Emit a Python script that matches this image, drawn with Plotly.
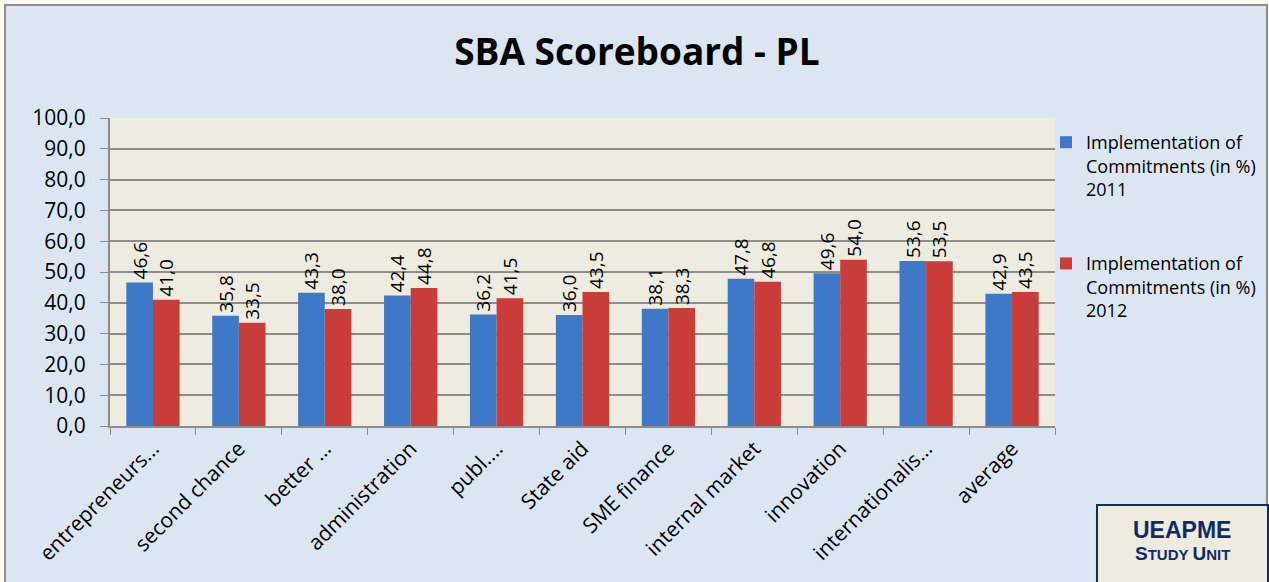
import plotly.graph_objects as go

categories = ["entrepreneurs…", "second chance", "better …", "administration", "publ.…",
              "State aid", "SME finance", "internal market", "innovation",
              "internationalis…", "average"]
values_2011 = [46.6, 35.8, 43.3, 42.4, 36.2, 36.0, 38.1, 47.8, 49.6, 53.6, 42.9]
values_2012 = [41.0, 33.5, 38.0, 44.8, 41.5, 43.5, 38.3, 46.8, 54.0, 53.5, 43.5]
series_names = ["Implementation of<br>Commitments (in %)<br>2011",
                "Implementation of<br>Commitments (in %)<br>2012"]
y_ticks = [0, 10, 20, 30, 40, 50, 60, 70, 80, 90, 100]

W, H = 1269, 582
ML, MR, MT, MB = 110, 214, 118, 156
PW, PH = W - ML - MR, H - MT - MB

def px(x):
    return (x - ML) / PW

def py(y):
    return (H - MB - y) / PH

FONT = "Open Sans"

fig = go.Figure()
fig.add_trace(go.Bar(
    x=categories, y=values_2011, name=series_names[0], legendgroup="a",
    marker=dict(color="#3e78c6", line=dict(width=0)),
    text=[f"{v:.1f}".replace(".", ",") for v in values_2011],
    textposition="outside", textangle=-90, cliponaxis=False, constraintext="none",
    textfont=dict(family=FONT, size=19, color="#000000"),
))
fig.add_trace(go.Bar(
    x=categories, y=values_2012, name=series_names[1], legendgroup="b",
    marker=dict(color="#c83c3a", line=dict(width=0)),
    text=[f"{v:.1f}".replace(".", ",") for v in values_2012],
    textposition="outside", textangle=-90, cliponaxis=False, constraintext="none",
    textfont=dict(family=FONT, size=19, color="#000000"),
))

shapes = [
    dict(type="rect", xref="paper", yref="paper",
         x0=px(5), x1=px(1267), y0=py(583), y1=py(5),
         fillcolor="#dce6f2", line=dict(color="#8c8c8c", width=2), layer="below"),
    dict(type="rect", xref="paper", yref="paper",
         x0=0, x1=1, y0=0, y1=1,
         fillcolor="#eeece1", line=dict(width=0), layer="below"),
    dict(type="rect", xref="paper", yref="paper",
         x0=px(1097), x1=px(1268), y0=py(584), y1=py(505),
         fillcolor="#eeece1", line=dict(color="#0f2a6b", width=2), layer="above"),
]

annotations = [
    dict(text="<b>UEAPME</b>", xref="paper", yref="paper", x=px(1182), y=py(530),
         showarrow=False, font=dict(family="Liberation Sans", size=23, color="#0f2a6b"),
         xanchor="center", yanchor="middle"),
    dict(text="<b><span style='font-size:19px'>S</span>TUDY <span style='font-size:19px'>U</span>NIT</b>",
         xref="paper", yref="paper", x=px(1182), y=py(553),
         showarrow=False, font=dict(family="Liberation Sans", size=15, color="#0f2a6b"),
         xanchor="center", yanchor="middle"),
]

fig.update_layout(
    width=W, height=H,
    margin=dict(l=ML, r=MR, t=MT, b=MB, autoexpand=False),
    paper_bgcolor="#fefdf0",
    plot_bgcolor="rgba(0,0,0,0)",
    separators=",.",
    title=dict(text="<b>SBA Scoreboard - PL</b>", x=px(637), xref="paper", xanchor="center",
               y=1 - 52 / H, yanchor="middle",
               font=dict(family=FONT, size=37, color="#000000")),
    barmode="group", bargap=0.38, bargroupgap=0,
    showlegend=True,
    legend=dict(x=px(1046), y=py(124), xanchor="left", yanchor="top",
                bgcolor="rgba(0,0,0,0)", font=dict(family=FONT, size=18, color="#000000"),
                tracegroupgap=48, valign="top", itemwidth=30),
    xaxis=dict(showgrid=False, showline=True, linecolor="#8c8c8c", linewidth=2,
               ticks="outside", tickson="boundaries", ticklen=7, tickcolor="#8c8c8c",
               tickangle=-45, automargin=False,
               tickfont=dict(family=FONT, size=21, color="#000000")),
    yaxis=dict(range=[0, 100], tickvals=y_ticks, tickformat=".1f",
               showgrid=True, gridcolor="#8c8c8c", gridwidth=2,
               showline=True, linecolor="#8c8c8c", linewidth=2,
               ticks="outside", ticklen=8, tickcolor="#8c8c8c", automargin=False,
               ticklabelstandoff=10,
               tickfont=dict(family=FONT, size=21, color="#000000"), zeroline=False),
    shapes=shapes,
    annotations=annotations,
)

fig.write_html("out.html", config={"displayModeBar": False},
               post_script="document.body.style.margin='0';document.body.style.overflow='hidden';")
